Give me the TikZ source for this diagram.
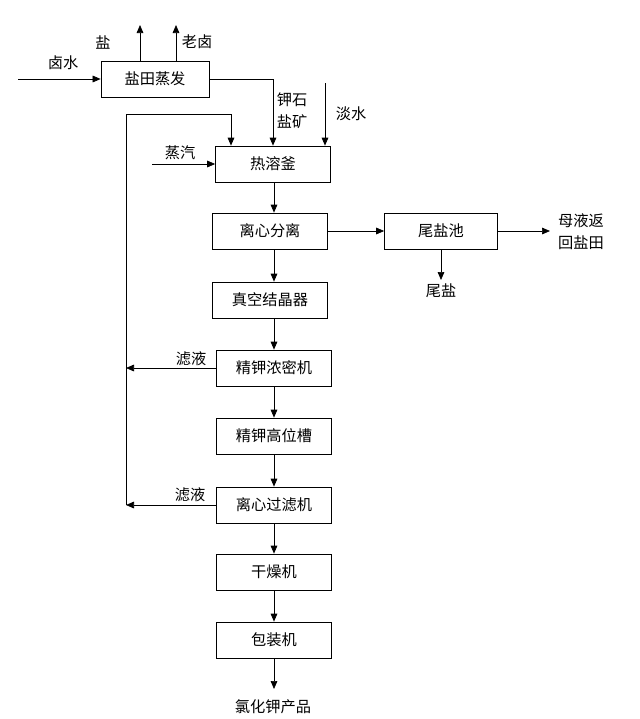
\documentclass[tikz,border=0pt]{standalone}
\usepackage{fontspec}
\newfontfamily\cjk{Noto Sans CJK SC}
\usetikzlibrary{arrows.meta,positioning}

\begin{document}
\begin{tikzpicture}[x=0.03cm,y=-0.03cm,line width=0.6pt,
    box/.style={draw,minimum width=3.45cm,minimum height=1.08cm,inner sep=1pt,
      font=\cjk\fontsize{13}{15}\selectfont},
    lbl/.style={inner sep=0pt,align=left,font=\cjk\fontsize{13}{19}\selectfont},
    >={Triangle[length=2.4mm,width=2mm]}]
    \useasboundingbox (0,0) rectangle (640,719);
    \node[box,minimum width=3.24cm] (yt) at (155,79) {盐田蒸发};
    \node[box] (rr) at (273,164) {热溶釜};
    \node[box] (lx) at (270,231) {离心分离};
    \node[box] (zk) at (270,300) {真空结晶器};
    \node[box] (nm) at (274,368) {精钾浓密机};
    \node[box] (gw) at (274,436) {精钾高位槽};
    \node[box] (gl) at (274,505) {离心过滤机};
    \node[box] (gz) at (274,572) {干燥机};
    \node[box] (bz) at (274,640) {包装机};
    \node[box,minimum width=3.39cm] (wy) at (441,231) {尾盐池};

    \node[lbl] (lushui) at (63,63) {卤水};
    \node[lbl] (yan) at (103,42) {盐};
    \node[lbl] (laolu) at (197,42) {老卤};
    \node[lbl] (jsy) at (292,111) {钾石\\盐矿};
    \node[lbl] (danshui) at (351,114) {淡水};
    \node[lbl] (zhengqi) at (180,153) {蒸汽};
    \node[lbl] (lvye1) at (191,359) {滤液};
    \node[lbl] (lvye2) at (190,495) {滤液};
    \node[lbl] (muye) at (581,232) {母液返\\回盐田};
    \node[lbl] (weiyan) at (441,291) {尾盐};
    \node[lbl] (kcl) at (273,707) {氯化钾产品};

    \coordinate (brine) at (18,79);
    \coordinate (salt) at (140,25);
    \coordinate (oldbrine) at (176,25);
    \coordinate (water) at (325,83);
    \coordinate (steam) at (152,164);
    \coordinate (back) at (126,114);
    \coordinate (back2) at (231,114);
    \coordinate (mother) at (550,231);
    \coordinate (tail) at (441,280);
    \coordinate (prod) at (274,689);

    \draw[->] (brine) -- (yt.west);
    \draw[->] (yt.north -| salt) -- (salt);
    \draw[->] (yt.north -| oldbrine) -- (oldbrine);
    \draw[->] (yt.east) -| (rr.north);
    \draw[->] (water) -- (water |- rr.north);
    \draw[->] (steam) -- (rr.west);
    \draw[->] (back |- gl.west) -- (back) -- (back2) -- (back2 |- rr.north);
    \draw[->] (nm.west) -- (back |- nm.west);
    \draw[->] (gl.west) -- (back |- gl.west);
    \foreach \a/\b in {rr/lx,lx/zk,zk/nm,nm/gw,gw/gl,gl/gz,gz/bz}
      \draw[->] (\a.south -| nm) -- (\b.north -| nm);
    \draw[->] (bz) -- (prod);
    \draw[->] (lx) -- (wy);
    \draw[->] (wy) -- (mother);
    \draw[->] (wy) -- (tail);
\end{tikzpicture}
\end{document}
